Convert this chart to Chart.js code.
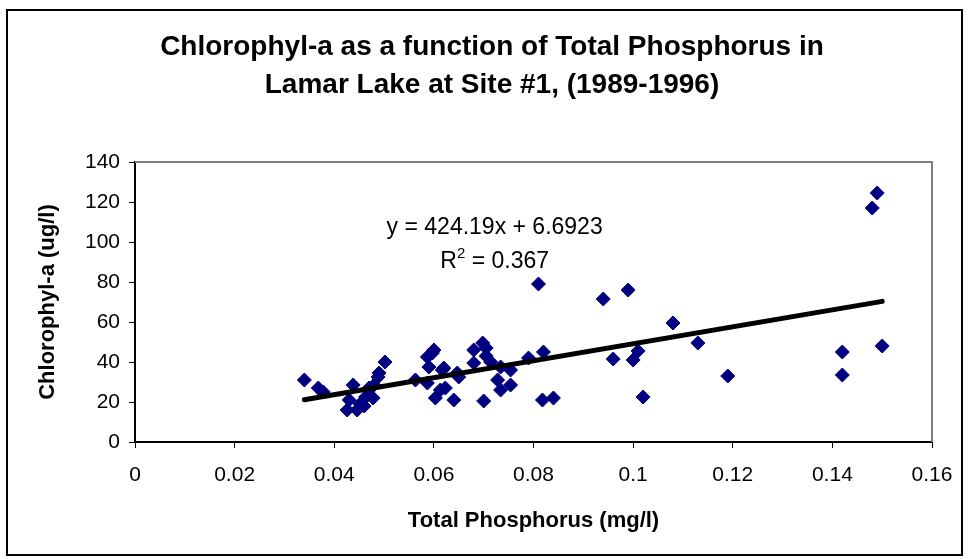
<!DOCTYPE html>
<html>
<head>
<meta charset="utf-8">
<script src="https://cdn.jsdelivr.net/npm/chart.js@4/dist/chart.umd.min.js"></script>
<style>
  html, body { margin: 0; padding: 0; background: #fff; }
  #wrap { width: 969px; height: 559px; }
</style>
</head>
<body>
<div id="wrap"><canvas id="chart" width="969" height="559"></canvas></div>
<script>
// Total phosphorus (mg/l)
const phosphorus = [
    0.034, 0.0368, 0.0378, 0.0426, 0.043, 0.0438, 0.0446, 0.0452, 0.046, 0.0463,
    0.047, 0.0478, 0.048, 0.0488, 0.049, 0.0502, 0.0563, 0.0587, 0.0587, 0.059,
    0.0597, 0.060, 0.0603, 0.0613, 0.0617, 0.062, 0.0623, 0.064, 0.0647, 0.065,
    0.068, 0.068, 0.0698, 0.070, 0.0705, 0.0705, 0.0714, 0.0728, 0.0734, 0.0734,
    0.0754, 0.0754, 0.079, 0.081, 0.0818, 0.082, 0.084, 0.094, 0.096, 0.099,
    0.100, 0.101, 0.102, 0.108, 0.113, 0.119, 0.142, 0.142, 0.148, 0.149, 0.150
];
// Chlorophyll-a (ug/l), same order
const chlorophyll = [
    31, 27, 25, 16, 21, 28.5, 16, 19, 18, 22.5,
    27, 22, 28.5, 32.5, 34.5, 40, 31, 29.5, 42.5, 37.5,
    44.5, 46, 22, 26, 36, 37, 27, 21, 34.5, 32.5,
    39.5, 46, 49.5, 20.5, 43, 47, 40, 31, 37.5, 26,
    36, 28.5, 42, 79, 21, 45, 22, 71.5, 41.5, 76,
    41, 45.5, 22.5, 59.5, 49.5, 33, 45, 33.5, 117, 124.5, 48
];
// linear trend line end points
const trendX = [0.034, 0.150];
const trendY = [21.1, 70.3];
const equationLines = ['y = 424.19x + 6.6923', 'R', '2', ' = 0.367'];

const titleLines = ['Chlorophyl-a as a function of Total Phosphorus in', 'Lamar Lake at Site #1, (1989-1996)'];
const xTitle = 'Total Phosphorus (mg/l)';
const yTitle = 'Chlorophyl-a (ug/l)';

const FONT = "'Liberation Sans', Arial, sans-serif";

const scatterPoints = phosphorus.map((x, i) => ({ x: x, y: chlorophyll[i] }));
const trendPoints = trendX.map((x, i) => ({ x: x, y: trendY[i] }));

// frame, chart title, plot border and the trend equation text
const decorPlugin = {
    id: 'decor',
    beforeDraw(c) {
        const ctx = c.ctx;
        ctx.save();
        ctx.fillStyle = '#fff';
        ctx.fillRect(0, 0, c.width, c.height);
        ctx.strokeStyle = '#000';
        ctx.lineWidth = 2;
        ctx.strokeRect(7, 10, 955, 545);

        // title is centred on the frame, not on the plot
        ctx.fillStyle = '#000';
        ctx.font = 'bold 28px ' + FONT;
        ctx.textAlign = 'center';
        ctx.textBaseline = 'middle';
        ctx.fillText(titleLines[0], 492, 47);
        ctx.fillText(titleLines[1], 492, 85);
        ctx.restore();
    },
    afterDatasetsDraw(c) {
        const ctx = c.ctx;
        const a = c.chartArea;
        ctx.save();
        ctx.strokeStyle = '#808080';
        ctx.lineWidth = 2;
        ctx.beginPath();
        ctx.moveTo(a.left, a.top);
        ctx.lineTo(a.right, a.top);
        ctx.lineTo(a.right, a.bottom);
        ctx.stroke();

        const xs = c.scales.x, ys = c.scales.y;
        const big = '23px ' + FONT, small = '15px ' + FONT;
        ctx.fillStyle = '#000';
        ctx.font = big;
        ctx.textBaseline = 'middle';
        ctx.textAlign = 'center';
        ctx.fillText(equationLines[0], xs.getPixelForValue(0.0722), ys.getPixelForValue(107));

        // R^2 line with superscript
        const cx = xs.getPixelForValue(0.0722), cy = ys.getPixelForValue(90);
        const wR = ctx.measureText(equationLines[1]).width;
        ctx.font = small;
        const w2 = ctx.measureText(equationLines[2]).width;
        ctx.font = big;
        const wRest = ctx.measureText(equationLines[3]).width;
        let x0 = cx - (wR + w2 + wRest) / 2;
        ctx.textAlign = 'left';
        ctx.fillText(equationLines[1], x0, cy);
        ctx.font = small;
        ctx.fillText(equationLines[2], x0 + wR, cy - 8);
        ctx.font = big;
        ctx.fillText(equationLines[3], x0 + wR + w2, cy);
        ctx.restore();
    }
};

new Chart(document.getElementById('chart'), {
    type: 'scatter',
    data: {
        datasets: [
            {
                label: 'Trend',
                type: 'line',
                data: trendPoints,
                borderColor: '#000',
                borderWidth: 5,
                borderCapStyle: 'round',
                pointRadius: 0,
                fill: false,
                order: 1
            },
            {
                label: 'Chlorophyll-a',
                data: scatterPoints,
                pointStyle: 'rectRot',
                pointRadius: 7,
                pointHoverRadius: 7,
                backgroundColor: '#000080',
                borderColor: '#000080',
                borderWidth: 1,
                order: 2
            }
        ]
    },
    options: {
        responsive: false,
        animation: false,
        layout: { padding: { left: 0, right: 37, top: 162, bottom: 0 } },
        plugins: {
            legend: { display: false },
            tooltip: { enabled: false },
            title: { display: false }
        },
        scales: {
            x: {
                type: 'linear',
                min: 0,
                max: 0.16,
                afterFit(s) { s.height = 117; },
                ticks: {
                    stepSize: 0.02,
                    color: '#000',
                    padding: 15,
                    font: { family: FONT, size: 21 },
                    callback: (v) => String(Number(v.toFixed(2)))
                },
                grid: { drawOnChartArea: false, drawTicks: true, tickLength: 6, color: '#000' },
                border: { color: '#000', width: 2 },
                title: {
                    display: true,
                    text: xTitle,
                    color: '#000',
                    font: { family: FONT, size: 22, weight: 'bold', lineHeight: 1.2 },
                    padding: { top: 0, bottom: 25 }
                }
            },
            y: {
                min: 0,
                max: 140,
                afterFit(s) { s.width = 135; },
                ticks: {
                    stepSize: 20,
                    color: '#000',
                    padding: 9,
                    font: { family: FONT, size: 21 }
                },
                grid: { drawOnChartArea: false, drawTicks: true, tickLength: 6, color: '#000' },
                border: { color: '#000', width: 2 },
                title: {
                    display: true,
                    text: yTitle,
                    color: '#000',
                    font: { family: FONT, size: 22, weight: 'bold', lineHeight: 1.2 },
                    padding: { top: 35, bottom: 0 }
                }
            }
        }
    },
    plugins: [decorPlugin]
});
</script>
</body>
</html>
